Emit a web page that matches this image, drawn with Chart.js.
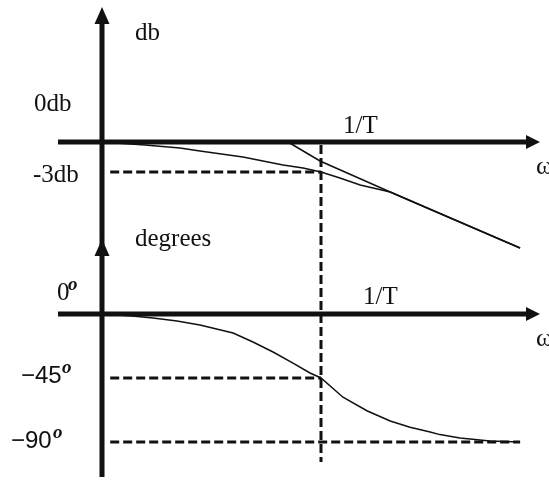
<!DOCTYPE html>
<html>
<head>
<meta charset="utf-8">
<title>Bode diagram of a first-order lag</title>
<script src="https://cdn.jsdelivr.net/npm/chart.js@4.4.1/dist/chart.umd.min.js"></script>
<style>
  html, body { margin: 0; padding: 0; background: #ffffff; }
  canvas { display: block; }
</style>
</head>
<body>
<canvas id="bode" width="549" height="485"></canvas>
<script>
// Frequency, in units of the corner frequency 1/T (log axis)
const omegaAxis = 0.1;      // where the vertical axis stands
const omegaCorner = 1;      // 1/T
const omegaTip = 10;        // arrow tip of the ω axes

// Magnitude of 1/(1 + jωT) in dB
const magOmega = [0.1, 0.157, 0.227, 0.28, 0.44, 0.671, 0.828, 1.0, 1.22, 1.51, 2.07, 3.49, 8.11];
const magDb    = [0, -0.3, -0.6, -0.9, -1.5, -2.3, -2.6, -3.0, -3.6, -4.3, -5.0, -7.15, -10.6];

// High-frequency asymptote (hand-drawn, joins the curve past 1/T)
const asymOmega = [0.707, 0.99, 2.07, 8.11];
const asymDb    = [0, -1.9, -5.0, -10.6];

// Phase in degrees
const phaseOmega = [0.1, 0.137, 0.171, 0.22, 0.28, 0.397, 0.489, 0.604, 0.745, 0.891, 1.0, 1.26, 1.62, 2.07, 2.55, 3.15, 3.49, 4.31, 5.91, 8.11];
const phaseDeg   = [0, -1.4, -2.8, -4.9, -7.7, -13.4, -19.7, -26.7, -34.5, -41.5, -45, -58.5, -68, -75.2, -79.6, -83, -84.8, -87.2, -89.3, -90];

// Reference levels and their labels
const dbLevels  = [0, -3];
const dbLabels  = ['0db', '-3db'];
const degLevels = [0, -45, -90];
const degLabels = ['0', '\u221245', '\u221290'];
const guideStartOmega = 0.109;   // dashed guides begin just right of the axis
const floorEndOmega = 8.11;      // end of the -90° guide
const cornerGuideEndDeg = -104;  // lower end of the 1/T guide

const ink = '#111111';
const W = 549, H = 485;

// Pixel layout of the drawing
const axisPx = 102, cornerPx = 321;          // ω = 0.1 and ω = 1
const magZeroPx = 142, magMinus3Px = 172;    // 0 dB and -3 dB
const phaseZeroPx = 314, phaseMinus90Px = 442;

function logRange(v0, p0, v1, p1, width) {
  const perDecade = (p1 - p0) / (Math.log10(v1) - Math.log10(v0));
  return {
    min: v0 * Math.pow(10, -p0 / perDecade),
    max: v0 * Math.pow(10, (width - p0) / perDecade)
  };
}
function linRange(v0, p0, v1, p1, height) {
  const perUnit = (p1 - p0) / (v0 - v1); // pixels per unit going down
  return {
    max: v0 + p0 / perUnit,
    min: v0 - (height - p0) / perUnit
  };
}

const xr = logRange(omegaAxis, axisPx, omegaCorner, cornerPx, W);
const mr = linRange(dbLevels[0], magZeroPx, dbLevels[1], magMinus3Px, H);
const pr = linRange(degLevels[0], phaseZeroPx, degLevels[2], phaseMinus90Px, H);

const pts = (xs, ys) => xs.map((v, i) => ({ x: v, y: ys[i] }));

function text(ctx, str, x, y, font) {
  ctx.font = font;
  ctx.fillText(str, x, y);
}

const bodeDecor = {
  id: 'bodeDecor',
  afterDatasetsDraw(chart) {
    const { ctx } = chart;
    const x = chart.scales.x, mag = chart.scales.mag, phase = chart.scales.phase;
    const ax = x.getPixelForValue(omegaAxis);
    const tip = x.getPixelForValue(omegaTip);
    const xc = x.getPixelForValue(omegaCorner);
    const y0m = mag.getPixelForValue(0);
    const y0p = phase.getPixelForValue(0);

    ctx.save();
    ctx.strokeStyle = ink;
    ctx.fillStyle = ink;

    // vertical 1/T guide through both plots
    ctx.lineWidth = 3;
    ctx.setLineDash([9, 4]);
    ctx.beginPath();
    ctx.moveTo(xc, y0m + 3);
    ctx.lineTo(xc, phase.getPixelForValue(cornerGuideEndDeg));
    ctx.stroke();
    ctx.setLineDash([]);

    // thick axes
    ctx.lineWidth = 5;
    ctx.lineCap = 'butt';
    ctx.beginPath();
    ctx.moveTo(ax, 20);
    ctx.lineTo(ax, 477);
    ctx.moveTo(58, y0m);
    ctx.lineTo(tip - 10, y0m);
    ctx.moveTo(58, y0p);
    ctx.lineTo(tip - 10, y0p);
    ctx.stroke();

    // arrowheads
    const up = (cx, ty) => {
      ctx.beginPath();
      ctx.moveTo(cx, ty);
      ctx.lineTo(cx + 7.5, ty + 17);
      ctx.lineTo(cx - 7.5, ty + 17);
      ctx.closePath();
      ctx.fill();
    };
    const right = (tx, cy) => {
      ctx.beginPath();
      ctx.moveTo(tx, cy);
      ctx.lineTo(tx - 14, cy - 7);
      ctx.lineTo(tx - 14, cy + 7);
      ctx.closePath();
      ctx.fill();
    };
    up(ax, 7);
    up(ax, 239);
    right(tip, y0m);
    right(tip, y0p);

    // labels
    ctx.textAlign = 'left';
    ctx.textBaseline = 'alphabetic';
    const serif = '25px "Liberation Serif", "Times New Roman", serif';
    const sans = '24px "Liberation Sans", Arial, sans-serif';
    const degSign = 'italic bold 19px "Liberation Serif", serif';

    text(ctx, 'db', 135, 40, serif);
    text(ctx, dbLabels[0], 34, mag.getPixelForValue(dbLevels[0]) - 31, serif);
    text(ctx, dbLabels[1], 33, mag.getPixelForValue(dbLevels[1]) + 10, serif);
    text(ctx, '1/T', 343, y0m - 9, serif);
    text(ctx, '\u03c9', 536, y0m + 32, '26px "Liberation Serif", serif');

    text(ctx, 'degrees', 135, 246, serif);
    text(ctx, degLabels[0], 57, phase.getPixelForValue(degLevels[0]) - 14, serif);
    text(ctx, 'o', 68, phase.getPixelForValue(degLevels[0]) - 24, degSign);
    text(ctx, degLabels[1], 21, phase.getPixelForValue(degLevels[1]) + 5, sans);
    text(ctx, 'o', 62, phase.getPixelForValue(degLevels[1]) - 5, degSign);
    text(ctx, degLabels[2], 11, phase.getPixelForValue(degLevels[2]) + 6, sans);
    text(ctx, 'o', 53, phase.getPixelForValue(degLevels[2]) - 4, degSign);
    text(ctx, '1/T', 363, y0p - 10, serif);
    text(ctx, '\u03c9', 536, y0p + 32, '26px "Liberation Serif", serif');

    ctx.restore();
  }
};

const thin = { borderColor: ink, borderWidth: 1.5, pointRadius: 0, tension: 0, fill: false };
const dashed = { borderColor: ink, borderWidth: 3, borderDash: [9, 4], pointRadius: 0, fill: false };

new Chart(document.getElementById('bode'), {
  type: 'line',
  data: {
    datasets: [
      { ...thin, label: '|G| (dB)', yAxisID: 'mag', data: pts(magOmega, magDb) },
      { ...thin, label: 'asymptote', yAxisID: 'mag', data: pts(asymOmega, asymDb) },
      { ...dashed, label: '-3 dB', yAxisID: 'mag',
        data: pts([guideStartOmega, omegaCorner], [dbLevels[1], dbLevels[1]]) },
      { ...thin, label: 'phase (deg)', yAxisID: 'phase', data: pts(phaseOmega, phaseDeg) },
      { ...dashed, label: '-45 deg', yAxisID: 'phase',
        data: pts([guideStartOmega, omegaCorner], [degLevels[1], degLevels[1]]) },
      { ...dashed, label: '-90 deg', yAxisID: 'phase',
        data: pts([guideStartOmega, floorEndOmega], [degLevels[2], degLevels[2]]) }
    ]
  },
  options: {
    responsive: false,
    animation: false,
    events: [],
    layout: { padding: 0 },
    plugins: { legend: { display: false }, tooltip: { enabled: false } },
    scales: {
      x: { type: 'logarithmic', display: false, bounds: 'data', min: xr.min, max: xr.max },
      mag: { type: 'linear', display: false, bounds: 'data', min: mr.min, max: mr.max },
      phase: { type: 'linear', display: false, bounds: 'data', min: pr.min, max: pr.max }
    }
  },
  plugins: [bodeDecor]
});
</script>
</body>
</html>
